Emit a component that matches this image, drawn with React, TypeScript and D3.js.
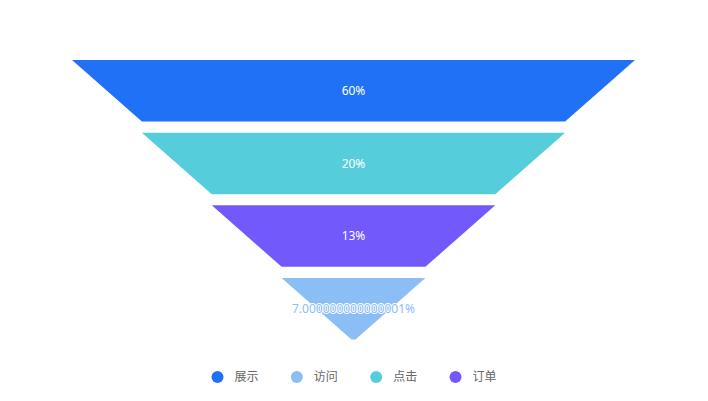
import React from 'react';
import * as d3 from 'd3';

// legend order
const categories = ['展示', '访问', '点击', '订单'];
const values = [60, 7.000000000000001, 20, 13];
const colors = ['#2071F5', '#8BBEF4', '#56CDDA', '#7259FB'];

const width = 708;
const height = 401;

export default function App() {
  // funnel goes from biggest to smallest
  const items = categories
    .map((name, i) => ({ name, value: values[i], color: colors[i] }))
    .sort((a, b) => b.value - a.value);

  const cx = 353.5;

  const y = d3.scaleBand<string>()
    .domain(items.map(d => d.name))
    .range([60, 339.5])
    .paddingInner(0.153)
    .paddingOuter(0);

  // half width by rank (top edge of each layer)
  const half = d3.scaleLinear().domain([0, items.length]).range([281.5, 2]);

  const line = d3.line<[number, number]>();

  // legend
  const legendX = d3.scalePoint<string>()
    .domain(categories)
    .range([217.5, 455.5]);
  const legendY = 377;

  return (
    <svg width={width} height={height} style={{ position: 'absolute', left: 0, top: 0 }}>
      {items.map((d, i) => {
        const y0 = y(d.name)!;
        const y1 = y0 + y.bandwidth();
        const t = half(i);
        const b = half(i + 1);
        const pts: [number, number][] = [
          [cx - t, y0], [cx + t, y0], [cx + b, y1], [cx - b, y1]
        ];
        const last = i === items.length - 1;
        return (
          <g key={d.name}>
            <path d={line(pts)! + 'Z'} fill={d.color} />
            <text
              x={cx}
              y={(y0 + y1) / 2}
              dy="0.35em"
              textAnchor="middle"
              fontSize={12}
              fontFamily="'Noto Sans', 'Noto Sans CJK SC', sans-serif"
              fill={last ? d.color : '#fff'}
              stroke={last ? '#fff' : 'none'}
              strokeWidth={last ? 2 : 0}
              paintOrder="stroke"
            >
              {d.value + '%'}
            </text>
          </g>
        );
      })}
      {categories.map((c, i) => (
        <g key={c} transform={`translate(${legendX(c)},${legendY})`}>
          <circle r={6} fill={colors[i]} />
          <text
            x={17}
            dy="0.35em"
            fontSize={12}
            fill="#666"
            fontFamily="'Noto Sans CJK SC', sans-serif"
          >
            {c}
          </text>
        </g>
      ))}
    </svg>
  );
}
